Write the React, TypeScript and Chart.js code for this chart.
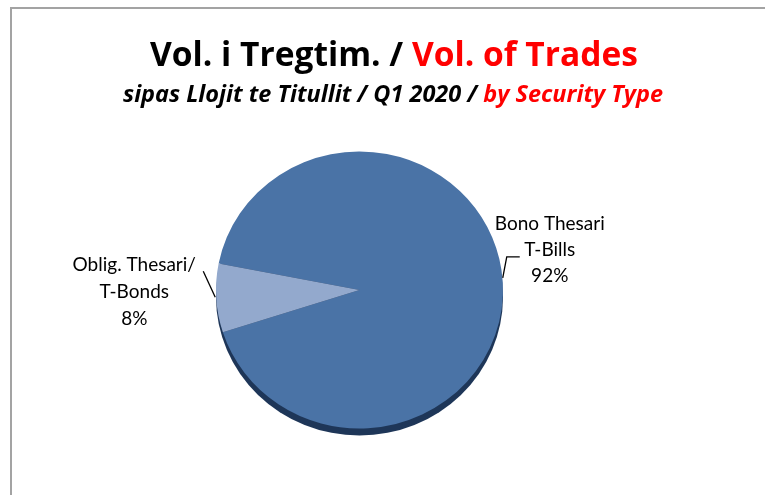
import React, { useEffect, useRef } from "react";
import { Chart, registerables } from "chart.js";

Chart.register(...registerables);

const categories = ["Bono Thesari / T-Bills", "Oblig. Thesari / T-Bonds"];
const labelLines = [
  ["Bono Thesari", "T-Bills"],
  ["Oblig. Thesari/", "T-Bonds"],
];
const shares = [92, 8];
const titleParts = ["Vol. i Tregtim. / ", "Vol. of Trades"];
const subtitleParts = ["sipas Llojit te Titullit / Q1 2020 / ", "by Security Type"];

const sliceColors = ["#4a73a6", "#93a9cd"];
const rimColor = "#1e3658";
const Y_SCALE = 0.965;
const FONT = "Lato, 'Noto Sans', sans-serif";
const TITLE_FONT = "'Open Sans', 'Noto Sans', sans-serif";

// label placement relative to slice rim point (style, not data)
const labelStyle = [
  { leader: [[0, -4], [4, -25], [17, -25]], tx: 47, baselines: [-51.6, -26, 0] },
  { leader: [[-1, -1], [-13, -27]], tx: -82, baselines: [-27, -0.4, 26.3] },
];

function drawTwoTone(ctx: any, parts: string[], style: string, base: number, targetW: number, cx: number, y: number) {
  ctx.font = `${style} ${base}px ${TITLE_FONT}`;
  const m = ctx.measureText(parts[0] + parts[1]).width;
  const size = base * (targetW / m);
  ctx.font = `${style} ${size.toFixed(2)}px ${TITLE_FONT}`;
  const w1 = ctx.measureText(parts[0]).width;
  const w2 = ctx.measureText(parts[1]).width;
  const x = cx - (w1 + w2) / 2;
  ctx.textAlign = "left";
  ctx.fillStyle = "#000000";
  ctx.fillText(parts[0], x, y);
  ctx.fillStyle = "#ff0000";
  ctx.fillText(parts[1], x + w1, y);
}

const pieDecor = {
  id: "pieDecor",
  beforeDraw(chart: any) {
    const { ctx } = chart;
    ctx.save();
    ctx.textBaseline = "alphabetic";
    drawTwoTone(ctx, titleParts, "bold", 30, 488, 394, 66);
    drawTwoTone(ctx, subtitleParts, "italic bold", 20, 540, 393, 102);
    ctx.restore();
  },
  beforeDatasetsDraw(chart: any) {
    const { ctx } = chart;
    const arc = chart.getDatasetMeta(0).data[0];
    if (!arc) return;
    const { x, y, outerRadius } = arc;
    ctx.save();
    ctx.translate(x, y);
    ctx.scale(1, Y_SCALE);
    ctx.translate(-x, -y);
    ctx.beginPath();
    ctx.arc(x, y + 7 / Y_SCALE, outerRadius, 0, Math.PI * 2);
    ctx.fillStyle = rimColor;
    ctx.fill();
  },
  afterDatasetsDraw(chart: any) {
    const { ctx } = chart;
    ctx.restore();
    const meta = chart.getDatasetMeta(0);
    const total = shares.reduce((a, b) => a + b, 0);
    meta.data.forEach((arc: any, i: number) => {
      const mid = (arc.startAngle + arc.endAngle) / 2;
      const px = arc.x + arc.outerRadius * Math.cos(mid);
      const py = arc.y + arc.outerRadius * Math.sin(mid) * Y_SCALE;
      const st = labelStyle[i];
      ctx.save();
      ctx.strokeStyle = "#000000";
      ctx.lineWidth = 1.3;
      ctx.beginPath();
      st.leader.forEach((p, k) => {
        if (k === 0) ctx.moveTo(px + p[0], py + p[1]);
        else ctx.lineTo(px + p[0], py + p[1]);
      });
      ctx.stroke();
      ctx.font = `19px ${FONT}`;
      ctx.fillStyle = "#000000";
      ctx.textAlign = "center";
      ctx.textBaseline = "alphabetic";
      const lines = [...labelLines[i], `${Math.round((shares[i] / total) * 100)}%`];
      lines.forEach((t, k) => ctx.fillText(t, px + st.tx, py + st.baselines[k]));
      ctx.restore();
    });
  },
};

export default function App() {
  const ref = useRef<HTMLCanvasElement | null>(null);
  useEffect(() => {
    if (!ref.current) return;
    const chart = new Chart(ref.current, {
      type: "pie",
      data: {
        labels: categories,
        datasets: [
          {
            data: shares,
            backgroundColor: sliceColors,
            borderWidth: 0,
          },
        ],
      },
      options: {
        responsive: false,
        animation: false,
        rotation: 281,
        layout: { padding: { top: 146.5, bottom: 61.5, left: 0, right: 46 } },
        plugins: {
          legend: { display: false },
          tooltip: { enabled: false },
          title: { display: false },
        },
      },
      plugins: [pieDecor],
    });
    return () => chart.destroy();
  }, []);
  return (
    <div style={{ position: "fixed", left: 0, top: 0, width: 765, height: 495, overflow: "hidden", background: "#fff" }}>
      <div
        style={{
          position: "absolute",
          left: 10,
          top: 7,
          width: 820,
          height: 620,
          border: "2px solid #a3a3a3",
          boxSizing: "border-box",
        }}
      />
      <canvas ref={ref} width={765} height={495} style={{ position: "absolute", left: 0, top: 0 }} />
    </div>
  );
}
